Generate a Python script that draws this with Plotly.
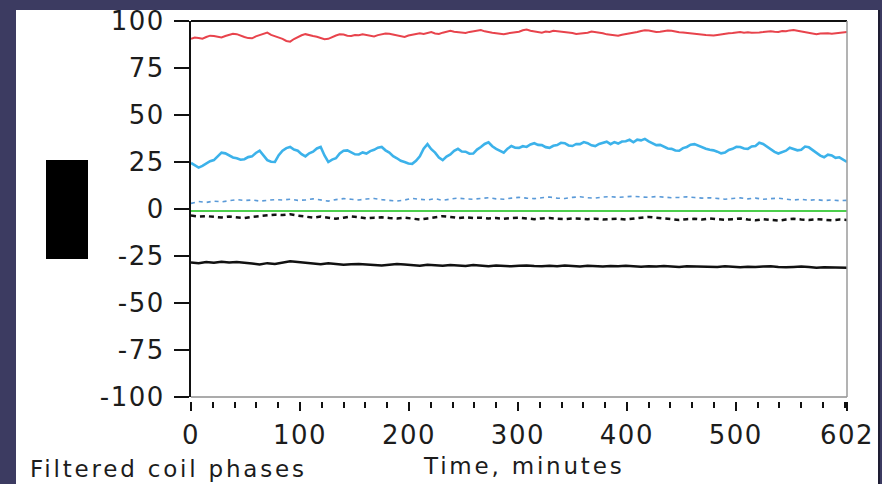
import plotly.graph_objects as go

# ---- data ----
time_min = [0, 7, 14, 21, 28, 35, 42, 49, 56, 63, 70, 77, 84, 91, 98, 105, 112, 119, 126, 133,
            140, 147, 154, 161, 168, 175, 182, 189, 196, 203, 210, 217, 224, 231, 238, 245, 252, 259, 266, 273,
            280, 287, 294, 301, 308, 315, 322, 329, 336, 343, 350, 357, 364, 371, 378, 385, 392, 399, 406, 413,
            420, 427, 434, 441, 448, 455, 462, 469, 476, 483, 490, 497, 504, 511, 518, 525, 532, 539, 546, 553,
            560, 567, 574, 581, 588, 595, 602]

time_fine = [0, 3.5, 7, 10.5, 14, 17.5, 21, 24.5, 28, 31.5, 35, 38.5, 42, 45.5, 49, 52.5, 56, 59.5, 63, 66.5,
             70, 73.5, 77, 80.5, 84, 87.5, 91, 94.5, 98, 101.5, 105, 108.5, 112, 115.5, 119, 122.5, 126, 129.5, 133, 136.5,
             140, 143.5, 147, 150.5, 154, 157.5, 161, 164.5, 168, 171.5, 175, 178.5, 182, 185.5, 189, 192.5, 196, 199.5, 203, 206.5,
             210, 213.5, 217, 220.5, 224, 227.5, 231, 234.5, 238, 241.5, 245, 248.5, 252, 255.5, 259, 262.5, 266, 269.5, 273, 276.5,
             280, 283.5, 287, 290.5, 294, 297.5, 301, 304.5, 308, 311.5, 315, 318.5, 322, 325.5, 329, 332.5, 336, 339.5, 343, 346.5,
             350, 353.5, 357, 360.5, 364, 367.5, 371, 374.5, 378, 381.5, 385, 388.5, 392, 395.5, 399, 402.5, 406, 409.5, 413, 416.5,
             420, 423.5, 427, 430.5, 434, 437.5, 441, 444.5, 448, 451.5, 455, 458.5, 462, 465.5, 469, 472.5, 476, 479.5, 483, 486.5,
             490, 493.5, 497, 500.5, 504, 507.5, 511, 514.5, 518, 521.5, 525, 528.5, 532, 535.5, 539, 542.5, 546, 549.5, 553, 556.5,
             560, 563.5, 567, 570.5, 574, 577.5, 581, 584.5, 588, 591.5, 595, 598.5, 602]

red_phase = [90.5, 91.2, 91, 90.6, 91.5, 92.2, 92, 91.4, 91.2, 92, 92.5, 93.2, 93, 92.1, 91.5, 90.9, 90.8, 91.8, 92.5, 93.4,
             93.8, 92.6, 92, 91, 90.5, 89.4, 89, 90.4, 91.5, 92.4, 93, 92.3, 92, 91.6, 91, 90.3, 90.5, 91.6, 92.3, 92.9,
             92.8, 92.2, 92, 92.5, 92.4, 92.9, 92.6, 92.1, 91.8, 92.5, 92.9, 93.4, 93.2, 92.7, 92.5, 91.8, 91.5, 92.3, 92.8, 93.3,
             93.5, 93.1, 93.6, 94.1, 93.4, 93.1, 93.8, 94.5, 94.8, 94.3, 94, 93.5, 93.6, 94.2, 94.5, 95, 95.2, 94.5, 94, 93.7,
             93.5, 93.1, 93, 93.4, 93.6, 94.1, 94.3, 95.1, 95.5, 94.8, 94.4, 93.9, 93.8, 94.4, 94.2, 94.8, 94.6, 94.1, 94, 93.9,
             93.6, 93.1, 93.2, 93.6, 93.8, 94.4, 94.2, 93.9, 93.5, 92.9, 92.6, 92.1, 92.2, 92.7, 93, 93.6, 93.8, 94.2, 94.7, 95.1,
             95, 94.5, 94.2, 94.3, 94.6, 95, 94.8, 94.3, 94, 93.9, 93.6, 93.4, 93.2, 93, 92.8, 92.5, 92.4, 92.3, 92.6, 93,
             93.2, 93.5, 93.6, 94, 94.2, 93.8, 94, 93.7, 93.6, 93.9, 94.1, 94.5, 94.6, 94.3, 94.2, 94.7, 94.5, 95, 95.2, 94.8,
             94.4, 93.9, 93.4, 93.1, 93, 93.4, 93.6, 93.5, 93.2, 93.4, 93.8, 94.1, 94.2]

cyan_phase = [24.5, 23.2, 22, 22.9, 24, 25.4, 26, 28.3, 30, 29.6, 28.5, 27.4, 27, 26.2, 26.5, 27.6, 28, 29.8, 31, 28.2,
              26, 25.1, 25, 28.6, 31, 32.4, 33, 31.6, 31, 29.2, 28, 29.6, 30.5, 32.2, 33, 28.5, 25, 26.3, 27, 29.6,
              31, 31.2, 30, 29.1, 29, 30.1, 29.5, 30.8, 31.5, 32.6, 33, 31.2, 30, 28.1, 27, 25.6, 25, 24.2, 24, 25.6,
              28, 32.1, 34.5, 31.8, 30, 27.4, 26, 27.9, 29, 30.9, 32, 30.6, 30.5, 29.4, 29.5, 31.6, 33, 34.6, 35.5, 33.4,
              32, 30.8, 30, 32.1, 33.5, 32.6, 32.5, 33.4, 33, 34.3, 35, 34.1, 34, 32.9, 32.5, 33.6, 34, 35.2, 35, 33.8,
              33.5, 34.6, 34.5, 35.6, 35, 33.9, 33.5, 34.6, 35, 35.8, 34.5, 35.6, 34.8, 35.9, 36, 36.8, 35.5, 36.9, 36.5, 37.3,
              36, 35.1, 34, 34.1, 33, 32.2, 32, 31.1, 31, 32.4, 33, 34.2, 34.5, 33.6, 33, 32.1, 31.5, 31.2, 30.5, 29.6,
              30, 31.4, 32, 33.1, 33, 32.2, 32, 33.3, 33.5, 35.2, 34.6, 33.1, 32, 30.4, 29.5, 30.3, 31, 32.6, 32, 31.2,
              31.5, 33.2, 32.8, 31.3, 30, 28.4, 27.5, 28.9, 28.5, 27.2, 27.5, 26.4, 25]

blue_dotted = [3, 4, 3.5, 4.2, 3.8, 4.6, 5, 4.5, 4.8, 4.2, 4.6, 5, 4.8, 5.2, 4.6, 4.8, 5.4, 4.9, 4.2, 5,
               5.5, 5.2, 4.8, 5.3, 5.6, 5, 4.6, 4.2, 4.8, 5.6, 5.2, 4.8, 5.5, 4.6, 5.3, 5.8, 5.4, 5.2, 5.6, 6,
               5.4, 5.2, 5.8, 6.2, 5.8, 5.5, 6, 6.4, 5.8, 5.6, 6.2, 6.5, 6, 5.8, 6.4, 6.6, 6.2, 6.5, 6.8, 6.4,
               6.2, 6.6, 6.4, 6, 6.2, 6.5, 6.1, 5.8, 6, 5.5, 5.2, 5.6, 5.9, 5.4, 5.8, 5.2, 5.5, 5.8, 5.2, 4.8,
               5.2, 4.6, 5, 4.5, 4.8, 4.4, 4.6]

green_time = [0, 602]
green_phase = [-1, -1]

black_dashed = [-3.5, -4, -3.8, -4.2, -4.5, -4, -4.4, -4.8, -4.2, -3.8, -3.5, -3, -3.2, -2.8, -3.5, -4.2, -4.6, -4, -4.8, -5.2,
                -4.6, -4, -4.4, -5, -4.6, -4.4, -4.8, -5, -4.6, -5.2, -5.6, -5, -4.4, -3.8, -4.2, -4.8, -4.4, -4.8, -4.6, -5,
                -4.8, -5.2, -4.8, -4.6, -5, -5.4, -5, -4.8, -5.2, -5.4, -5, -5.2, -5.4, -5.2, -5.6, -5.4, -5.2, -5.6, -5, -4.6,
                -4.2, -4.6, -5.2, -5.6, -5.8, -5.4, -5.2, -5.6, -5, -5.4, -5.8, -5.4, -5, -5.6, -6, -5.4, -5.8, -6.2, -5.6, -5.2,
                -5.6, -5.8, -5.4, -5.8, -6, -5.6, -5.8]

black_solid = [-28.5, -28.8, -28.2, -28.6, -28, -28.4, -28.2, -28.8, -29, -29.5, -28.8, -29.2, -28.4, -27.8, -28.2, -28.6, -29, -29.4, -28.8, -29.2,
               -29.6, -29.4, -29.2, -29.5, -29.8, -30, -29.6, -29.2, -29.5, -29.8, -30.2, -29.6, -29.8, -30.2, -29.8, -30, -30.3, -29.8, -30.1, -30.4,
               -30, -30.2, -30.5, -30.2, -30, -30.3, -30.5, -30.2, -30.4, -30.1, -30.3, -30.6, -30.2, -30.4, -30.6, -30.3, -30.5, -30.2, -30.4, -30.7,
               -30.4, -30.6, -30.3, -30.5, -30.8, -30.5, -30.6, -30.9, -30.6, -30.8, -30.5, -30.7, -31, -30.7, -30.9, -30.6, -30.4, -30.8, -31, -30.8,
               -30.6, -30.9, -31.2, -31, -31.1, -30.9, -31.2]

y_ticks = [100, 75, 50, 25, 0, -25, -50, -75, -100]
x_ticks = [0, 100, 200, 300, 400, 500, 602]

# ---- figure ----
W, H = 882, 484
L, R, T, B = 191, 35, 21, 83          # paper bottom sits at the x tick start (y=401)
pw, ph = W - L - R, H - T - B
AX_BOTTOM = 397                        # pixel row of the plot's bottom frame line


def px(xp):
    return (xp - L) / pw


def py(yp):
    return (H - B - yp) / ph


def spaced(s, sp):
    return "<span style='letter-spacing:%gpx'>%s</span>" % (sp, s)


fig = go.Figure()
fig.add_trace(go.Scatter(x=time_min, y=black_solid, mode="lines",
                         line=dict(color="#111111", width=2.5)))
fig.add_trace(go.Scatter(x=time_min, y=black_dashed, mode="lines",
                         line=dict(color="#111111", width=2.5, dash="5px,4px")))
fig.add_trace(go.Scatter(x=green_time, y=green_phase, mode="lines",
                         line=dict(color="#4ccf4c", width=2)))
fig.add_trace(go.Scatter(x=time_min, y=blue_dotted, mode="lines",
                         line=dict(color="#5a9ad8", width=1.6, dash="4px,4px")))
fig.add_trace(go.Scatter(x=time_fine, y=cyan_phase, mode="lines",
                         line=dict(color="#3cb2ea", width=2.6)))
fig.add_trace(go.Scatter(x=time_fine, y=red_phase, mode="lines",
                         line=dict(color="#e8434c", width=2)))

shapes = [
    # white slide panel
    dict(type="rect", xref="paper", yref="paper", x0=px(16), x1=px(878), y0=py(486), y1=py(10),
         fillcolor="white", line=dict(width=0), layer="below"),
    # black block on the left
    dict(type="rect", xref="paper", yref="paper", x0=px(46), x1=px(88), y0=py(259), y1=py(160),
         fillcolor="black", line=dict(width=0), layer="above"),
    # top frame line (black)
    dict(type="line", xref="paper", yref="paper", x0=0, x1=1, y0=py(T), y1=py(T),
         line=dict(color="#111111", width=2)),
    # bottom frame line (gray)
    dict(type="line", xref="paper", yref="paper", x0=0, x1=1, y0=py(AX_BOTTOM), y1=py(AX_BOTTOM),
         line=dict(color="#8f8f8f", width=1.5)),
    # right frame line (gray)
    dict(type="line", xref="paper", yref="paper", x0=1, x1=1, y0=py(AX_BOTTOM), y1=py(T),
         line=dict(color="#9a9a9a", width=1.5)),
    # right dark edge of slide
    dict(type="line", xref="paper", yref="paper", x0=px(879), x1=px(879), y0=py(486), y1=py(10),
         line=dict(color="#1e1d33", width=2)),
]

fig.update_layout(
    width=W, height=H,
    margin=dict(l=L, r=R, t=T, b=B),
    paper_bgcolor="#3c3b61",
    plot_bgcolor="white",
    showlegend=False,
    shapes=shapes,
    font=dict(family="DejaVu Sans", color="#1c1c1c"),
    annotations=[
        dict(text=spaced("Filtered coil phases", 2.8), xref="paper", yref="paper", x=px(28), y=py(469),
             xanchor="left", yanchor="middle", showarrow=False,
             font=dict(size=23, color="#1c1c1c", family="DejaVu Sans")),
        dict(text=spaced("Time, minutes", 2.8), xref="paper", yref="paper", x=px(523), y=py(466),
             xanchor="center", yanchor="middle", showarrow=False,
             font=dict(size=23, color="#1c1c1c", family="DejaVu Sans")),
    ],
)

fig.update_xaxes(
    range=[0, 602], tickvals=x_ticks, ticktext=[spaced(str(v), 1.5) for v in x_ticks],
    anchor="free", position=0, automargin=False,
    showgrid=False, zeroline=False, showline=False,
    ticks="outside", ticklen=9, tickwidth=2, tickcolor="#111111",
    minor=dict(dtick=20, tick0=0, ticks="outside", ticklen=6, tickwidth=2, tickcolor="#111111", showgrid=False),
    tickfont=dict(size=26, color="#1c1c1c"),
    ticklabelstandoff=2,
)
fig.update_yaxes(
    range=[-100, 100], tickvals=y_ticks, ticktext=[spaced(str(v), 1.5) for v in y_ticks],
    domain=[py(AX_BOTTOM), py(T)], automargin=False,
    showgrid=False, zeroline=False,
    showline=True, linecolor="#111111", linewidth=2,
    ticks="outside", ticklen=15, tickwidth=2, tickcolor="#111111",
    tickfont=dict(size=26, color="#1c1c1c"),
    ticklabelstandoff=4,
)

fig.write_html(
    "out.html",
    config={"displayModeBar": False},
    post_script="document.body.style.margin='0';document.body.style.padding='0';"
                "document.body.style.background='#3c3b61';document.body.style.overflow='hidden';",
)
